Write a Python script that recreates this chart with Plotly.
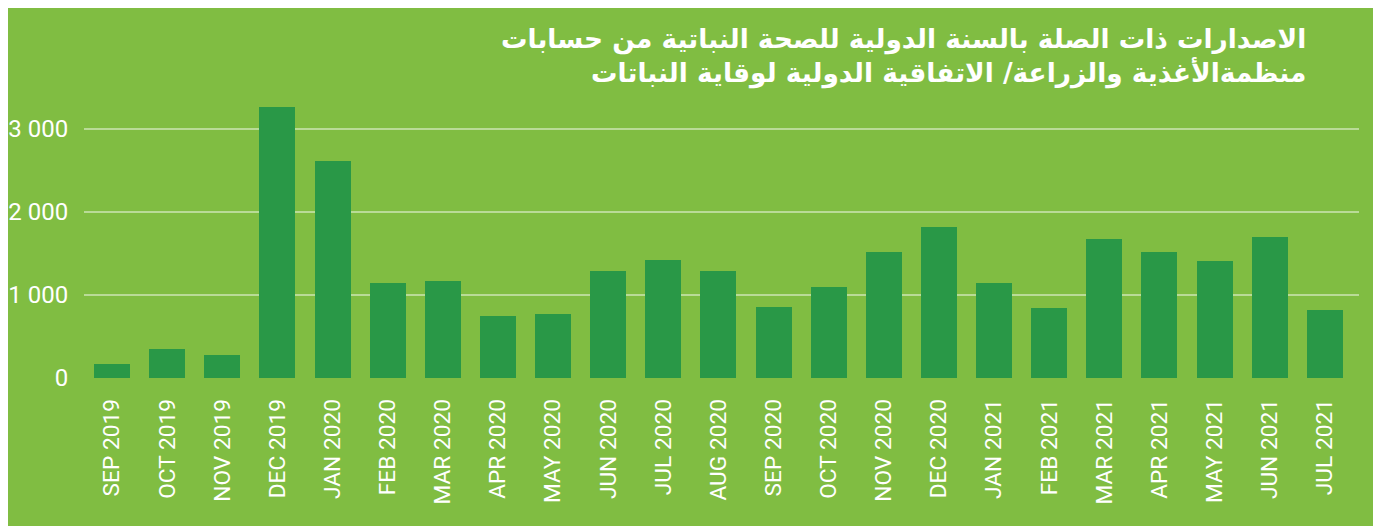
import plotly.graph_objects as go

months = ["SEP 2019", "OCT 2019", "NOV 2019", "DEC 2019", "JAN 2020", "FEB 2020",
          "MAR 2020", "APR 2020", "MAY 2020", "JUN 2020", "JUL 2020", "AUG 2020",
          "SEP 2020", "OCT 2020", "NOV 2020", "DEC 2020", "JAN 2021", "FEB 2021",
          "MAR 2021", "APR 2021", "MAY 2021", "JUN 2021", "JUL 2021"]
releases = [172, 352, 280, 3262, 2611, 1145, 1169, 749, 773, 1290, 1422, 1290,
            857, 1097, 1518, 1819, 1145, 845, 1675, 1518, 1410, 1699, 821]
ytick_vals = [0, 1000, 2000, 3000]
ytick_text = ["0", "1 000", "2 000", "3 000"]
title_lines = ["الاصدارات ذات الصلة بالسنة الدولية للصحة النباتية من حسابات",
               "منظمةالأغذية والزراعة/ الاتفاقية الدولية لوقاية النباتات"]

# the page body adds an 8px margin, so work in screen px and shift back
OFF = 8
W, H = 1387, 526
L, R = 84 - OFF, 1359 - OFF          # plot area in figure px
T, B = 103.7 - OFF, 378.3 - OFF


def px_x(p):
    return (p - OFF - L) / (R - L)


def px_y(p):
    return (B - (p - OFF)) / (B - T)


bg = "#80bd42"
bar_col = "#299847"

fig = go.Figure()
fig.add_trace(go.Bar(x=list(range(len(months))), y=releases, width=0.653,
                     marker_color=bar_col, marker_line_width=0))

# green panel behind everything
fig.add_shape(type="rect", xref="paper", yref="paper", layer="below",
              x0=px_x(4), x1=px_x(1373), y0=px_y(540), y1=px_y(5),
              fillcolor=bg, line_width=0)

fig.add_annotation(xref="paper", yref="paper", x=px_x(1308), y=px_y(21),
                   xanchor="right", yanchor="top", align="right", showarrow=False,
                   text="<b>" + "<br>".join(title_lines) + "</b>",
                   font=dict(family="DejaVu Sans", size=26.4, color="white"))

fig.update_layout(width=W, height=H, paper_bgcolor="white", plot_bgcolor="rgba(0,0,0,0)",
                  margin=dict(l=L, r=W - R, t=T, b=H - B, pad=0),
                  showlegend=False, bargap=0)
fig.update_xaxes(range=[-0.51, 22.62], tickvals=list(range(len(months))), ticktext=months,
                 tickangle=-90, showgrid=False, zeroline=False, showline=False,
                 automargin=False,
                 ticks="outside", ticklen=11, tickcolor="rgba(0,0,0,0)",
                 tickfont=dict(family="Roboto", size=22.7, color="white"))
fig.update_yaxes(range=[0, 3300], tickvals=ytick_vals, ticktext=ytick_text,
                 showgrid=True, gridcolor="rgba(255,255,255,0.45)", gridwidth=1.5,
                 zeroline=False, showline=False, automargin=False,
                 ticks="outside", ticklen=10, tickcolor="rgba(0,0,0,0)",
                 tickfont=dict(family="Roboto", size=24, color="white"))

fig.write_html("out.html")
